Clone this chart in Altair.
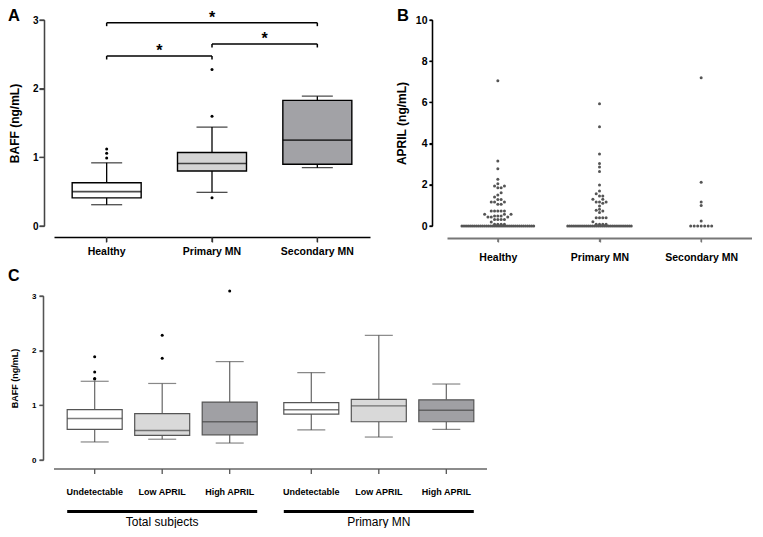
import altair as alt
import pandas as pd

FONT = "Liberation Sans"

# ---------------- Panel A : BAFF box plots ----------------
a_groups = ["Healthy", "Primary MN", "Secondary MN"]
a_low = [0.31, 0.49, 0.85]
a_q1 = [0.41, 0.80, 0.90]
a_med = [0.50, 0.91, 1.25]
a_q3 = [0.63, 1.07, 1.83]
a_high = [0.92, 1.44, 1.89]
a_fill = ["#ffffff", "#d4d4d4", "#a2a2a6"]
a_out_group = ["Healthy", "Healthy", "Healthy", "Primary MN", "Primary MN", "Primary MN"]
a_out_value = [0.99, 1.06, 1.12, 0.41, 1.60, 2.28]
a_ticks = [0, 1, 2, 3]
sig_from = [0, 1, 0]
sig_to = [1, 2, 2]
sig_y = [2.475, 2.65, 2.96]
sig_label = ["*", "*", "*"]

# ---------------- Panel B : APRIL dot plot ----------------
b_healthy = [7.05, 3.16, 2.78, 2.27, 2.05, 1.94, 1.94, 1.86, 1.86, 1.62, 1.50, 1.41,
             1.29, 1.29, 1.17, 1.17, 1.17, 1.05, 1.05, 0.73, 0.73, 0.73, 0.73, 0.73,
             0.57, 0.57, 0.57, 0.49, 0.49, 0.49, 0.44, 0.44, 0.44, 0.32, 0.32, 0.32,
             0.32, 0.19, 0.09, 0.09, 0.09, 0.09]
b_primary = [5.94, 4.82, 3.50, 3.03, 2.86, 2.65, 1.99, 1.70, 1.57, 1.46, 1.46, 1.30,
             1.30, 1.17, 1.17, 1.17, 1.10, 0.97, 0.81, 0.76, 0.73, 0.65, 0.40, 0.40,
             0.40, 0.40, 0.21, 0.09, 0.09, 0.09, 0.09]
b_secondary = [7.20, 2.12, 1.16, 1.00, 0.24]
b_zero_counts = [36, 32, 7]
b_ticks = [0, 2, 4, 6, 8, 10]

# ---------------- Panel C : BAFF by APRIL level ----------------
c_groups = ["Total subjects", "Primary MN"]
c_subs = ["Undetectable", "Low APRIL", "High APRIL"]
c_group = ["Total subjects"] * 3 + ["Primary MN"] * 3
c_sub = c_subs * 2
c_low = [0.33, 0.38, 0.31, 0.55, 0.42, 0.56]
c_q1 = [0.56, 0.45, 0.46, 0.84, 0.70, 0.70]
c_med = [0.76, 0.54, 0.70, 0.92, 0.99, 0.91]
c_q3 = [0.92, 0.85, 1.06, 1.05, 1.11, 1.10]
c_high = [1.44, 1.40, 1.80, 1.60, 2.28, 1.39]
c_fill = ["#ffffff", "#d9d9d9", "#a0a0a4"] * 2
c_out_group = ["Total subjects"] * 7
c_out_sub = ["Undetectable"] * 4 + ["Low APRIL"] * 2 + ["High APRIL"]
c_out_value = [1.89, 1.61, 1.49, 1.48, 2.28, 1.86, 3.09]
c_ticks = [0, 1, 2, 3]

# ---------------- sizes ----------------
A_W, A_H = 316, 206
B_W, B_H = 305, 206
C_W, C_H = 433, 164
one = pd.DataFrame({"k": [0]})

# ======================= Panel A =======================
df_a = pd.DataFrame({"group": a_groups, "low": a_low, "q1": a_q1, "med": a_med,
                     "q3": a_q3, "high": a_high, "fill": a_fill})
df_a_out = pd.DataFrame({"group": a_out_group, "value": a_out_value})
df_a_ticks = pd.DataFrame({"v": a_ticks})
df_sig = pd.DataFrame({"x1": sig_from, "x2": sig_to, "y": sig_y, "t": sig_label})
df_sig["ylow"] = df_sig["y"] - 0.05
df_sig["mid"] = (df_sig["x1"] + df_sig["x2"]) / 2

ya_scale = alt.Scale(domain=[0, 3], nice=False)
xa_scale = alt.Scale(domain=a_groups, paddingInner=0, paddingOuter=0)
qx_scale = alt.Scale(domain=[-0.5, 2.5], nice=False, zero=False)

ya_axis = alt.Axis(offset=10, tickSize=5, values=a_ticks, labelFontSize=10,
                   labelFontWeight="bold", labelPadding=1, domain=True, ticks=True,
                   domainColor="#444", domainWidth=1.3, tickColor="#444", tickWidth=1.3,
                   titleFontSize=12, titleFontWeight="bold",
                   titlePadding=11, grid=False, labelColor="black", titleColor="black")
xa_axis = alt.Axis(offset=11, tickSize=5, labelFontSize=10.5, labelFontWeight="bold",
                   labelPadding=4, domain=True, ticks=True, domainColor="black",
                   domainWidth=1.4, tickColor="#333", tickWidth=1.3,
                   labelAngle=0, grid=False, labelColor="black")


def ya(field):
    return alt.Y(field, scale=ya_scale, axis=ya_axis, title="BAFF (ng/mL)")


xa = alt.X("group:N", scale=xa_scale, axis=xa_axis, title=None)

base_a = alt.Chart(df_a)
a_wlo = base_a.mark_rule(color="black", strokeWidth=1.3).encode(x=xa, y=ya("low:Q"), y2="q1:Q")
a_whi = base_a.mark_rule(color="black", strokeWidth=1.3).encode(x=xa, y=ya("q3:Q"), y2="high:Q")
a_box = base_a.mark_bar(width=69, stroke="black", strokeWidth=1.4).encode(
    x=xa, y=ya("q1:Q"), y2="q3:Q", fill=alt.Fill("fill:N", scale=None))
a_medt = base_a.mark_tick(size=69, thickness=1.6, color="black").encode(x=xa, y=ya("med:Q"))
a_caplo = base_a.mark_tick(size=31, thickness=1.3, color="black").encode(x=xa, y=ya("low:Q"))
a_caphi = base_a.mark_tick(size=31, thickness=1.3, color="black").encode(x=xa, y=ya("high:Q"))
a_out = alt.Chart(df_a_out).mark_circle(size=9, color="black", opacity=1).encode(
    x=xa, y=ya("value:Q"))
a_xticks = base_a.mark_rule(color="#333", strokeWidth=1.3).encode(
    x=xa, y=alt.value(A_H + 11), y2=alt.value(A_H + 16))
a_ydom = alt.Chart(one).mark_rule(color="#444", strokeWidth=1.3).encode(
    x=alt.value(-9.5), y=alt.value(0), y2=alt.value(A_H))
a_yticks = alt.Chart(df_a_ticks).mark_rule(color="#444", strokeWidth=1.3).encode(
    y=ya("v:Q"), x=alt.value(-14.5), x2=alt.value(-9.5))
letter_a = alt.Chart(pd.DataFrame({"t": ["A"]})).mark_text(
    fontSize=16.5, fontWeight="bold", align="left", baseline="top", color="black").encode(
    x=alt.value(-46), y=alt.value(-12), text="t:N")

base_sig = alt.Chart(df_sig)
sig_h = base_sig.mark_rule(color="black", strokeWidth=1.5).encode(
    x=alt.X("x1:Q", scale=qx_scale, axis=None), x2="x2:Q", y=ya("y:Q"))
sig_l = base_sig.mark_rule(color="black", strokeWidth=1.5).encode(
    x=alt.X("x1:Q", scale=qx_scale, axis=None), y=ya("y:Q"), y2="ylow:Q")
sig_r = base_sig.mark_rule(color="black", strokeWidth=1.5).encode(
    x=alt.X("x2:Q", scale=qx_scale, axis=None), y=ya("y:Q"), y2="ylow:Q")
sig_t = base_sig.mark_text(fontSize=16, fontWeight="bold", baseline="alphabetic",
                           color="black").encode(
    x=alt.X("mid:Q", scale=qx_scale, axis=None), y=ya("y:Q"), text="t:N")

boxes_a = alt.layer(a_wlo, a_whi, a_box, a_medt, a_caplo, a_caphi, a_out, a_xticks,
                    a_ydom, a_yticks, letter_a)
brackets_a = alt.layer(sig_h, sig_l, sig_r, sig_t)
panel_a = alt.layer(boxes_a, brackets_a).resolve_scale(x="independent").properties(
    width=A_W, height=A_H)

# ======================= Panel B =======================
ppu = B_H / 10.0
step_px = B_W / 3.0


def swarm(vals, nzero):
    pts = []
    sp = 3.5 if nzero <= 10 else 2.05
    for k in range(nzero):
        pts.append(((k - (nzero - 1) / 2.0) * sp, 0.0))
    cands = [0]
    for i in range(1, 40):
        cands += [i, -i]
    placed = []
    for v in sorted(vals):
        y = v * ppu
        x = 0.0
        for c in cands:
            x = c * 3.3
            if all((x - px) ** 2 + (y - py) ** 2 >= 3.2 ** 2 for px, py in placed):
                break
        placed.append((x, y))
        pts.append((x, v))
    return pts


rows = []
for gi, (vals, nz) in enumerate(zip([b_healthy, b_primary, b_secondary], b_zero_counts)):
    for off, v in swarm(vals, nz):
        rows.append({"x": gi + off / step_px, "value": v})
df_b = pd.DataFrame(rows)

label_expr = " : ".join(
    [f"datum.value == {i} ? '{g}'" for i, g in enumerate(a_groups[:-1])]) + f" : '{a_groups[-1]}'"

bx_scale = alt.Scale(domain=[-0.5, 2.5], nice=False, zero=False)
by_scale = alt.Scale(domain=[0, 10], nice=False)
bx_axis = alt.Axis(values=[0, 1, 2], labelExpr=label_expr, offset=12, tickSize=4,
                   domain=True, ticks=True,
                   tickColor="#777", tickWidth=1.3, domainColor="#777", domainWidth=2,
                   labelFontSize=10.5, labelFontWeight="bold", labelPadding=10,
                   grid=False, labelColor="black", labelAngle=0)
by_axis = alt.Axis(values=b_ticks, offset=15, tickSize=3,
                   domain=True, ticks=True,
                   labelFontSize=10.5, labelFontWeight="bold", labelPadding=2,
                   domainColor="black", domainWidth=1.3, tickColor="black",
                   tickWidth=1.3, titleFontSize=12,
                   titleFontWeight="bold", titlePadding=7, grid=False,
                   labelColor="black", titleColor="black")


def bx(field):
    return alt.X(field, scale=bx_scale, axis=bx_axis, title=None)


def by(field):
    return alt.Y(field, scale=by_scale, axis=by_axis, title="APRIL (ng/mL)")


b_points = alt.Chart(df_b).mark_circle(size=9, color="#555555", opacity=1).encode(
    x=bx("x:Q"), y=by("value:Q"))
b_xticks = alt.Chart(pd.DataFrame({"x": [0, 1, 2]})).mark_rule(
    color="#777", strokeWidth=1.3).encode(
    x=bx("x:Q"), y=alt.value(B_H + 12), y2=alt.value(B_H + 16))
b_ydom = alt.Chart(one).mark_rule(color="black", strokeWidth=1.3).encode(
    x=alt.value(-14.5), y=alt.value(0), y2=alt.value(B_H))
b_yticks = alt.Chart(pd.DataFrame({"v": b_ticks})).mark_rule(
    color="black", strokeWidth=1.3).encode(
    y=by("v:Q"), x=alt.value(-17.5), x2=alt.value(-14.5))
letter_b = alt.Chart(pd.DataFrame({"t": ["B"]})).mark_text(
    fontSize=16.5, fontWeight="bold", align="left", baseline="top", color="black").encode(
    x=alt.value(-50), y=alt.value(-12), text="t:N")
panel_b = alt.layer(b_points, b_xticks, b_ydom, b_yticks, letter_b).properties(
    width=B_W, height=B_H)

# ======================= Panel C =======================
df_c = pd.DataFrame({"group": c_group, "sub": c_sub, "low": c_low, "q1": c_q1,
                     "med": c_med, "q3": c_q3, "high": c_high, "fill": c_fill})
df_c_out = pd.DataFrame({"group": c_out_group, "sub": c_out_sub, "value": c_out_value})
df_cg = pd.DataFrame({"group": c_groups})

yc_scale = alt.Scale(domain=[0, 3], nice=False)
xg_scale = alt.Scale(domain=c_groups, paddingInner=0.065, paddingOuter=0.032)
xg = alt.X("group:N", scale=xg_scale, axis=None)
xo = alt.XOffset("sub:N", scale=alt.Scale(domain=c_subs, paddingInner=0, paddingOuter=0))

yc_axis = alt.Axis(offset=11, tickSize=4, values=c_ticks, labelFontSize=8,
                   labelFontWeight="bold", labelPadding=3, domain=True, ticks=True,
                   domainColor="#555", domainWidth=1.3,
                   tickColor="#555", tickWidth=1.3, titleFontSize=9, titleFontWeight="bold",
                   titlePadding=12, grid=False, labelColor="black", titleColor="black")


def yc(field):
    return alt.Y(field, scale=yc_scale, axis=yc_axis, title="BAFF (ng/mL)")


base_c = alt.Chart(df_c)
c_wlo = base_c.mark_rule(color="#666", strokeWidth=1.2).encode(
    x=xg, xOffset=xo, y=yc("low:Q"), y2="q1:Q")
c_whi = base_c.mark_rule(color="#666", strokeWidth=1.2).encode(
    x=xg, xOffset=xo, y=yc("q3:Q"), y2="high:Q")
c_box = base_c.mark_bar(width=55, stroke="#555", strokeWidth=1.2).encode(
    x=xg, xOffset=xo, y=yc("q1:Q"), y2="q3:Q", fill=alt.Fill("fill:N", scale=None))
c_medt = base_c.mark_tick(size=55, thickness=1.4, color="#444").encode(
    x=xg, xOffset=xo, y=yc("med:Q"))
c_caplo = base_c.mark_tick(size=28, thickness=1.2, color="#555").encode(
    x=xg, xOffset=xo, y=yc("low:Q"))
c_caphi = base_c.mark_tick(size=28, thickness=1.2, color="#555").encode(
    x=xg, xOffset=xo, y=yc("high:Q"))
c_out = alt.Chart(df_c_out).mark_circle(size=9, color="black", opacity=1).encode(
    x=xg, xOffset=xo, y=yc("value:Q"))

c_domain = alt.Chart(one).mark_rule(color="#666", strokeWidth=1.3).encode(
    x=alt.value(0), x2=alt.value(C_W), y=alt.value(C_H + 9))
c_xticks = base_c.mark_bar(width=1.3, color="#555").encode(
    x=xg, xOffset=xo, y=alt.value(C_H + 9), y2=alt.value(C_H + 14))
c_ydom = alt.Chart(one).mark_rule(color="#555", strokeWidth=1.3).encode(
    x=alt.value(-10.5), y=alt.value(0), y2=alt.value(C_H))
c_yticks = alt.Chart(pd.DataFrame({"v": c_ticks})).mark_rule(
    color="#555", strokeWidth=1.3).encode(
    y=yc("v:Q"), x=alt.value(-14.5), x2=alt.value(-10.5))
c_labels = base_c.mark_text(fontSize=9, fontWeight="bold", baseline="middle",
                            color="black").encode(
    x=xg, xOffset=xo, y=alt.value(C_H + 32))
c_labels = c_labels.encode(text="sub:N")
c_glines = alt.Chart(df_cg).mark_bar(width=190, color="black").encode(
    x=xg, y=alt.value(C_H + 50), y2=alt.value(C_H + 53))
c_glabels = alt.Chart(df_cg).mark_text(fontSize=12, baseline="middle", color="black").encode(
    x=xg, y=alt.value(C_H + 62), text="group:N")
letter_c = alt.Chart(pd.DataFrame({"t": ["C"]})).mark_text(
    fontSize=16, fontWeight="bold", align="left", baseline="top", color="black").encode(
    x=alt.value(-46), y=alt.value(-28), text="t:N")

panel_c = alt.layer(c_wlo, c_whi, c_box, c_medt, c_caplo, c_caphi, c_out,
                    c_domain, c_xticks, c_ydom, c_yticks, c_labels, c_glines, c_glabels,
                    letter_c).properties(width=C_W, height=C_H)

chart = alt.vconcat(
    alt.hconcat(panel_a, panel_b, spacing=77, bounds="flush"),
    panel_c, spacing=5
).properties(padding=0).configure(font=FONT).configure_view(stroke=None)

chart.save("out.html", embed_options={"renderer": "svg", "actions": False})
